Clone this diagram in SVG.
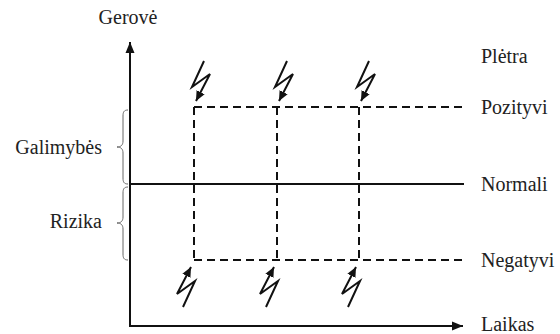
<svg xmlns="http://www.w3.org/2000/svg" width="560" height="334" viewBox="0 0 560 334">
<style>
.lbl{font-size:20px;fill:#222}
.ax{stroke:#111;stroke-width:2;fill:none}
.dash{stroke:#111;stroke-width:2;fill:none;stroke-dasharray:8 5}
.brace{stroke:#666;stroke-width:1;fill:none}
.bolt{stroke:#111;stroke-width:2;fill:none;stroke-linejoin:miter}
</style>
<defs>
<marker id="ah" markerUnits="userSpaceOnUse" markerWidth="12" markerHeight="10" refX="11" refY="5" orient="auto">
<path d="M0,0.5 L11,5 L0,9.5 z" fill="#111"/>
</marker>
<marker id="bh" markerUnits="userSpaceOnUse" markerWidth="12" markerHeight="10" refX="10" refY="5" orient="auto">
<path d="M0,0.5 L10,5 L0,9.5 z" fill="#111"/>
</marker>
</defs>
<rect width="560" height="334" fill="#fff"/>
<g id="connectors">
<line class="ax" x1="130" y1="326" x2="130" y2="42" marker-end="url(#ah)"/>
<line class="ax" x1="129" y1="326" x2="463" y2="326" marker-end="url(#ah)"/>
<line class="ax" x1="131" y1="184" x2="464" y2="184"/>
<path class="dash" d="M194,107 H464 M194,260 H464"/>
<path class="dash" d="M194,107 V260 M277,107 V260 M359,107 V260"/>
<path class="brace" d="M128,110 C124,110 123,112 123,116 L123,141 C123,145 121,147 117,147 C121,147 123,149 123,153 L123,178 C123,182 124,184 128,184"/>
<path class="brace" d="M128,187 C124,187 123,189 123,193 L123,217 C123,221 121,223 117,223 C121,223 123,225 123,229 L123,254 C123,258 124,260 128,260"/>
</g>
<g id="bolts">
<polyline class="bolt" points="204,61 192,87 210,74 196,101" marker-end="url(#bh)"/>
<polyline class="bolt" points="287,61 275,87 293,74 279,101" marker-end="url(#bh)"/>
<polyline class="bolt" points="369,61 357,87 375,74 361,101" marker-end="url(#bh)"/>
<polyline class="bolt" points="183,307 195,281 177,294 191,267" marker-end="url(#bh)"/>
<polyline class="bolt" points="266,307 278,281 260,294 274,267" marker-end="url(#bh)"/>
<polyline class="bolt" points="348,307 360,281 342,294 356,267" marker-end="url(#bh)"/>
</g>
<g id="labels" font-family="'Liberation Serif', 'Times New Roman', serif">
<text class="lbl" x="128" y="24" text-anchor="middle">Gerovė</text>
<text class="lbl" x="102" y="154" text-anchor="end">Galimybės</text>
<text class="lbl" x="102" y="228" text-anchor="end">Rizika</text>
<text class="lbl" x="481" y="63">Plėtra</text>
<text class="lbl" x="481" y="114">Pozityvi</text>
<text class="lbl" x="481" y="191">Normali</text>
<text class="lbl" x="481" y="267">Negatyvi</text>
<text class="lbl" x="481" y="331">Laikas</text>
</g>
</svg>
